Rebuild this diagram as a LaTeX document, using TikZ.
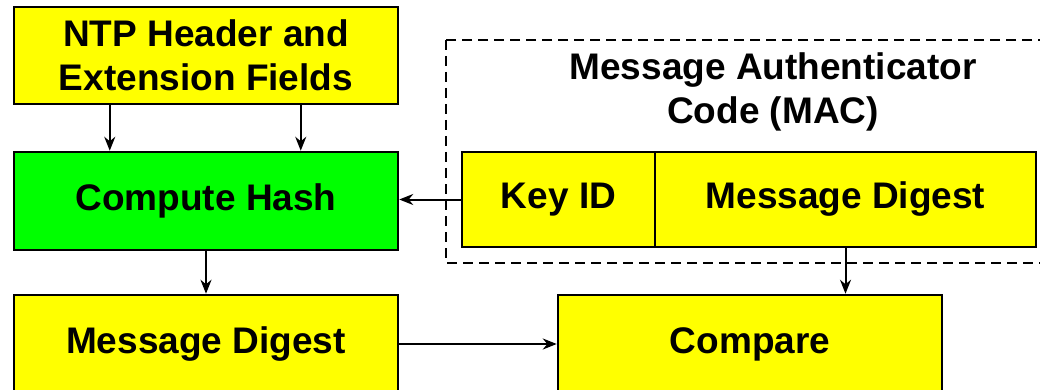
\documentclass[tikz,border=0pt]{standalone}
\usepackage{fontspec}
\setmainfont{Liberation Sans}
\usetikzlibrary{arrows.meta,calc}
\definecolor{boxyellow}{RGB}{255,255,0}
\definecolor{boxgreen}{RGB}{0,255,0}
\begin{document}
\begin{tikzpicture}[x=1pt,y=-1pt,
  box/.style={draw=black,line width=2.5pt,fill=boxyellow,rectangle,inner sep=0pt,
    font=\fontsize{37}{44}\selectfont\bfseries,align=center},
  arr/.style={draw=black,line width=2pt,-{Stealth[length=14pt,width=11pt]}}]
\clip (0,0) rectangle (1040,390);
\path[use as bounding box] (0,0) rectangle (1040,390);
\fill[white] (0,0) rectangle (1040,390);
% dashed MAC container
\draw[line width=2pt,dash pattern=on 10pt off 6pt] (446,40) rectangle (1060,263);
\node[font=\fontsize{37}{44}\selectfont\bfseries,align=center] (mactitle) at (773,92) {Message Authenticator\\Code (MAC)};
% boxes
\node[box,minimum width=384pt,minimum height=97pt] (ntp) at (206,55.5) {NTP Header and\\Extension Fields};
\node[box,fill=boxgreen,minimum width=384pt,minimum height=98pt] (hash) at (206,201) {Compute Hash};
\node[box,minimum width=193pt,minimum height=95pt] (keyid) at (558.5,199.5) {Key ID};
\node[box,minimum width=381pt,minimum height=95pt] (macd) at (845.5,199.5) {Message Digest};
\node[box,minimum width=384pt,minimum height=98pt] (digest) at (206,344) {Message Digest};
\node[box,minimum width=384pt,minimum height=98pt] (compare) at (750,344) {Compare};
% connectors
\draw[arr] ([xshift=97pt]ntp.south west) -- ([xshift=97pt]ntp.south west |- hash.north);
\draw[arr] ([xshift=288pt]ntp.south west) -- ([xshift=288pt]ntp.south west |- hash.north);
\draw[arr] (keyid.west) -- (keyid.west -| hash.east);
\draw[arr] (hash.south) -- (digest.north);
\draw[arr] (macd.south) -- (macd.south |- compare.north);
\draw[arr] (digest.east) -- (compare.west);
\end{tikzpicture}
\end{document}
